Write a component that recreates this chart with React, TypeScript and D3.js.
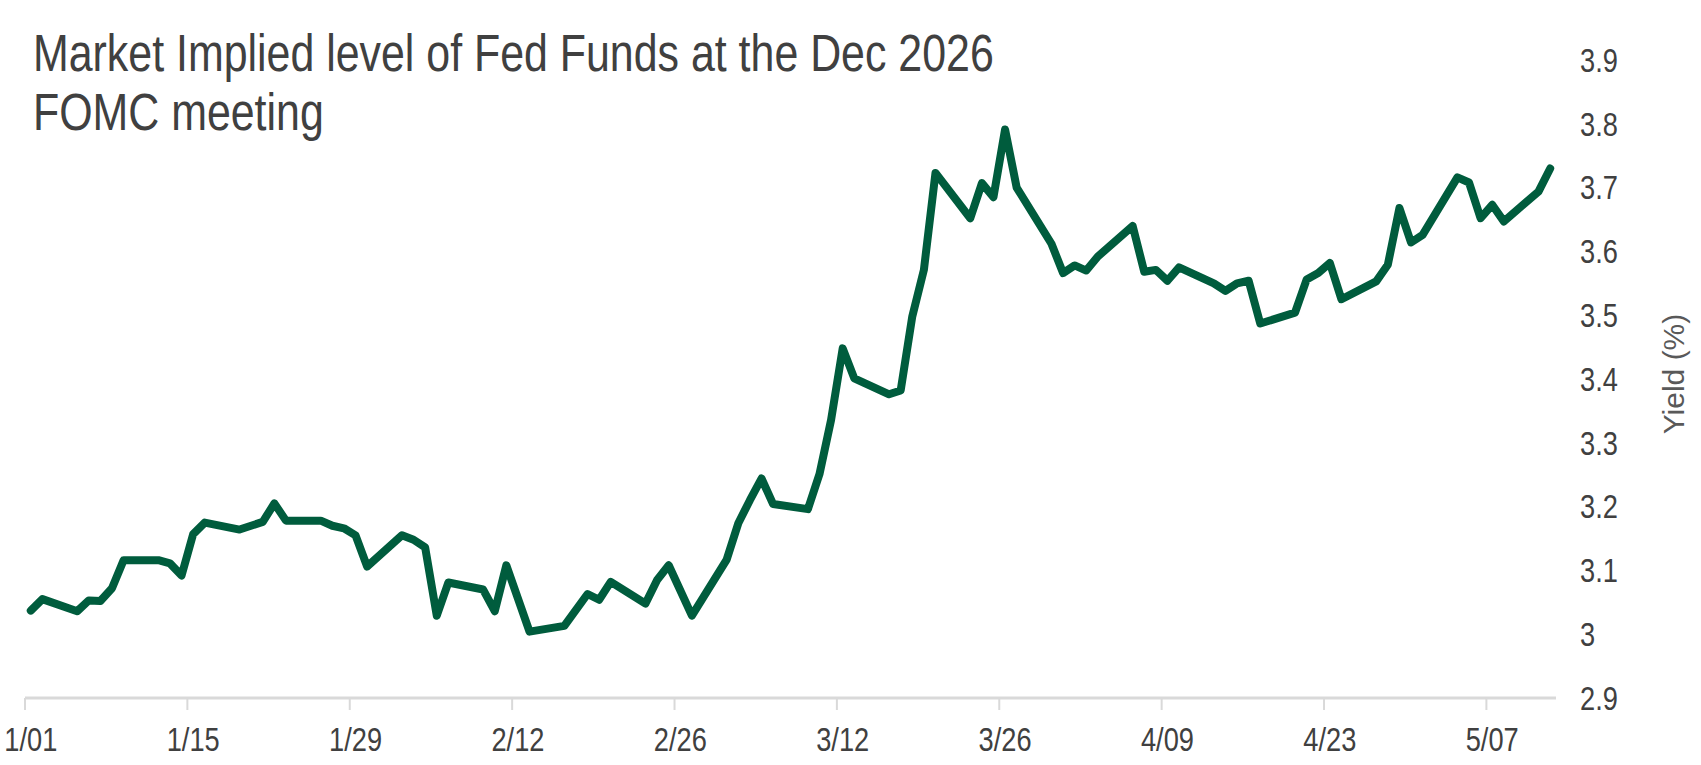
import { useEffect, useRef } from "react";
import * as d3 from "d3";

// daily closes (business days), Dec 2026 FOMC implied rate
const dates = [
  "2026-01-01", "2026-01-02", "2026-01-05", "2026-01-06", "2026-01-07", "2026-01-08", "2026-01-09",
  "2026-01-12", "2026-01-13", "2026-01-14", "2026-01-15", "2026-01-16", "2026-01-19", "2026-01-21",
  "2026-01-22", "2026-01-23", "2026-01-26", "2026-01-27", "2026-01-28", "2026-01-29", "2026-01-30",
  "2026-02-02", "2026-02-03", "2026-02-04", "2026-02-05", "2026-02-06", "2026-02-09", "2026-02-10",
  "2026-02-11", "2026-02-13", "2026-02-16", "2026-02-18", "2026-02-19", "2026-02-20", "2026-02-23",
  "2026-02-24", "2026-02-25", "2026-02-27", "2026-03-02", "2026-03-03", "2026-03-04", "2026-03-05",
  "2026-03-06", "2026-03-09", "2026-03-10", "2026-03-11", "2026-03-12", "2026-03-13", "2026-03-16",
  "2026-03-17", "2026-03-18", "2026-03-19", "2026-03-20", "2026-03-23", "2026-03-24", "2026-03-25",
  "2026-03-26", "2026-03-27", "2026-03-30", "2026-03-31", "2026-04-01", "2026-04-02", "2026-04-03",
  "2026-04-06", "2026-04-07", "2026-04-08", "2026-04-09", "2026-04-10", "2026-04-13", "2026-04-14",
  "2026-04-15", "2026-04-16", "2026-04-17", "2026-04-20", "2026-04-21", "2026-04-22", "2026-04-23",
  "2026-04-24", "2026-04-27", "2026-04-28", "2026-04-29", "2026-04-30", "2026-05-01", "2026-05-04",
  "2026-05-05", "2026-05-06", "2026-05-07", "2026-05-08", "2026-05-11", "2026-05-12",
];

const yields = [
  3.037, 3.055, 3.036, 3.053, 3.052, 3.072, 3.116,
  3.116, 3.111, 3.092, 3.157, 3.175, 3.164, 3.176,
  3.205, 3.178, 3.178, 3.17, 3.166, 3.155, 3.106,
  3.155, 3.148, 3.136, 3.029, 3.081, 3.07, 3.036,
  3.108, 3.004, 3.013, 3.063, 3.054, 3.082, 3.048,
  3.085, 3.108, 3.029, 3.117, 3.174, 3.21, 3.244,
  3.204, 3.196, 3.251, 3.336, 3.448, 3.401, 3.376,
  3.382, 3.498, 3.571, 3.723, 3.652, 3.707, 3.685,
  3.791, 3.7, 3.612, 3.566, 3.578, 3.57, 3.592,
  3.64, 3.568, 3.571, 3.554, 3.575, 3.55, 3.538,
  3.55, 3.554, 3.487, 3.504, 3.556, 3.566, 3.582,
  3.525, 3.553, 3.579, 3.668, 3.614, 3.626, 3.716,
  3.708, 3.652, 3.673, 3.647, 3.694, 3.73,
];

const xTickDates = [
  "2026-01-01", "2026-01-15", "2026-01-29", "2026-02-12", "2026-02-26",
  "2026-03-12", "2026-03-26", "2026-04-09", "2026-04-23", "2026-05-07",
];
const yTicks = [2.9, 3, 3.1, 3.2, 3.3, 3.4, 3.5, 3.6, 3.7, 3.8, 3.9];

const titleLines = ["Market Implied level of Fed Funds at the Dec 2026", "FOMC meeting"];
const yAxisTitle = "Yield (%)";

const WIDTH = 1701;
const HEIGHT = 765;
const FONT = '"Liberation Sans", Arial, sans-serif';
// no narrow face installed, so squeeze the regular one
const SQUEEZE = 0.825;

const App = () => {
  const svgRef = useRef(null);

  useEffect(() => {
    const parse = d3.utcParse("%Y-%m-%d");
    const data = dates.map((d, i) => ({ date: parse(d), value: yields[i] }));

    const x = d3
      .scaleUtc()
      .domain([parse("2026-01-01"), parse("2026-05-13")])
      .range([25, 1556]);
    const y = d3.scaleLinear().domain([2.9, 3.9]).range([698, 60]);

    // points sit in the middle of each day band
    const xMid = (d) => x(d3.utcHour.offset(d, 12));
    const narrowAt = (px, py) => `translate(${px},${py}) scale(${SQUEEZE},1)`;

    const svg = d3.select(svgRef.current);
    svg.selectAll("*").remove();

    svg
      .selectAll(".title")
      .data(titleLines)
      .enter()
      .append("text")
      .attr("transform", (d, i) => narrowAt(33, 71 + i * 59))
      .attr("font-family", FONT)
      .attr("font-size", 52)
      .attr("fill", "#404040")
      .text((d) => d);

    // x axis
    const xAxis = svg.append("g");
    xAxis
      .append("line")
      .attr("x1", x.range()[0])
      .attr("x2", x.range()[1])
      .attr("y1", 698)
      .attr("y2", 698)
      .attr("stroke", "#d9d9d9")
      .attr("stroke-width", 3);

    const fmt = d3.utcFormat("%-m/%d");
    const ticks = xTickDates.map(parse);
    xAxis
      .selectAll(".tick")
      .data(ticks)
      .enter()
      .append("line")
      .attr("x1", (d) => x(d))
      .attr("x2", (d) => x(d))
      .attr("y1", 698)
      .attr("y2", 710)
      .attr("stroke", "#d9d9d9")
      .attr("stroke-width", 2);
    xAxis
      .selectAll(".label")
      .data(ticks)
      .enter()
      .append("text")
      .attr("transform", (d) => narrowAt(xMid(d), 751))
      .attr("text-anchor", "middle")
      .attr("font-family", FONT)
      .attr("font-size", 33)
      .attr("fill", "#404040")
      .text((d) => fmt(d));

    // y axis on the right
    svg
      .append("g")
      .selectAll("text")
      .data(yTicks)
      .enter()
      .append("text")
      .attr("transform", (d) => narrowAt(1580, y(d)))
      .attr("dy", "0.36em")
      .attr("font-family", FONT)
      .attr("font-size", 33)
      .attr("fill", "#404040")
      .text((d) => String(d));

    svg
      .append("text")
      .attr("transform", "translate(1673,374) rotate(-90)")
      .attr("text-anchor", "middle")
      .attr("dy", "0.36em")
      .attr("font-family", FONT)
      .attr("font-size", 30)
      .attr("fill", "#595959")
      .text(yAxisTitle);

    const line = d3
      .line()
      .x((d) => xMid(d.date))
      .y((d) => y(d.value));

    svg
      .append("path")
      .datum(data)
      .attr("d", line)
      .attr("fill", "none")
      .attr("stroke", "#005c3d")
      .attr("stroke-width", 8)
      .attr("stroke-linejoin", "round")
      .attr("stroke-linecap", "round");
  }, []);

  return (
    <svg
      ref={svgRef}
      width={WIDTH}
      height={HEIGHT}
      style={{ position: "absolute", left: 0, top: 0, background: "#fff" }}
    />
  );
};

export default App;
